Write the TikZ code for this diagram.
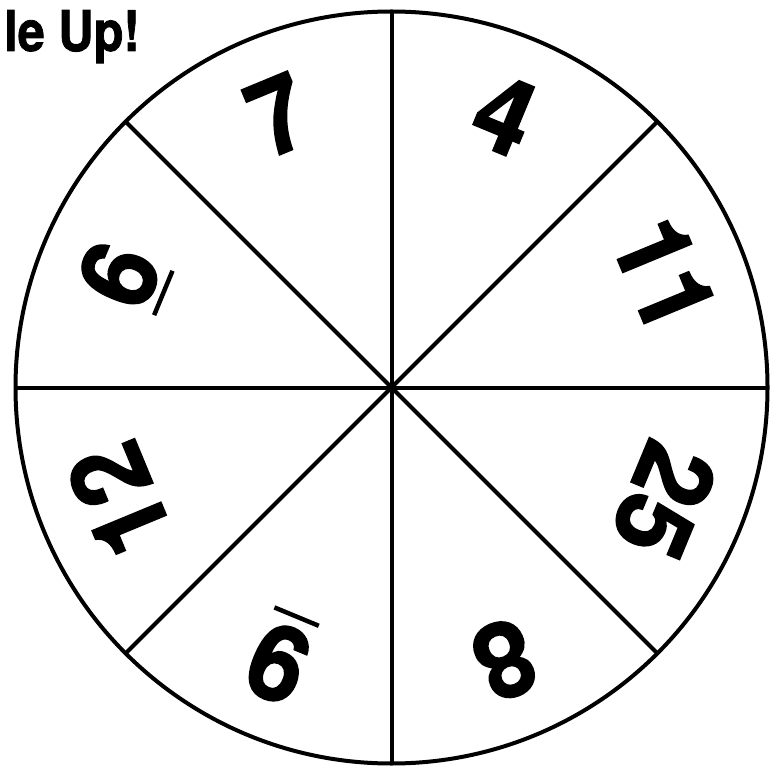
\documentclass[tikz,border=0pt]{standalone}
\usepackage{fontspec}
\setmainfont{TeX Gyre Heros}
\newfontfamily\numfont{TeX Gyre Heros}[BoldFeatures={FakeBold=1.5}]
\begin{document}
\begin{tikzpicture}[x=1pt,y=1pt,
  rim/.style={line width=4pt},
  num/.style={font=\numfont\bfseries\fontsize{105}{105}\selectfont, inner sep=0pt, transform shape, xscale=0.95},
  bar/.style={line width=4.5pt},
  ttl/.style={font=\numfont\bfseries\fontsize{56}{56}\selectfont, inner sep=0pt, anchor=base west, xscale=0.87}]
\useasboundingbox (0,0) rectangle (783,769);
\coordinate (c) at (391.5,381.5);
\draw[rim] (c) circle (376);
\foreach \a [count=\i] in {0,45,...,315}
  \coordinate (r\i) at ([shift={(\a:376)}]c);
\foreach \i in {1,...,8}
  \draw[rim] (c) -- (r\i);
\foreach \a/\t/\n in {112.5/7/n7, 67.5/4/n4, 22.5/11/n11, -22.5/25/n25, -67.5/8/n8, -157.5/12/n12}
  \node[rotate=\a-90, num] (\n) at ([shift={(\a:295)}]c) {\t};
\begin{scope}[shift={(c)}, shift={(157.5:295)}, rotate=67.5]
  \node[num] (n6a) at (0,0) {6};
  \coordinate (u1a) at (-24,-48);
  \coordinate (u1b) at (24,-48);
  \draw[bar] (u1a) -- (u1b);
\end{scope}
\begin{scope}[shift={(c)}, shift={(-112.5:298)}, rotate=157.5]
  \node[num] (n9a) at (0,0) {9};
  \coordinate (u2a) at (-24,-50);
  \coordinate (u2b) at (24,-50);
  \draw[bar] (u2a) -- (u2b);
\end{scope}
\node[ttl] (title) at (4,718) {le Up!};
\end{tikzpicture}
\end{document}
